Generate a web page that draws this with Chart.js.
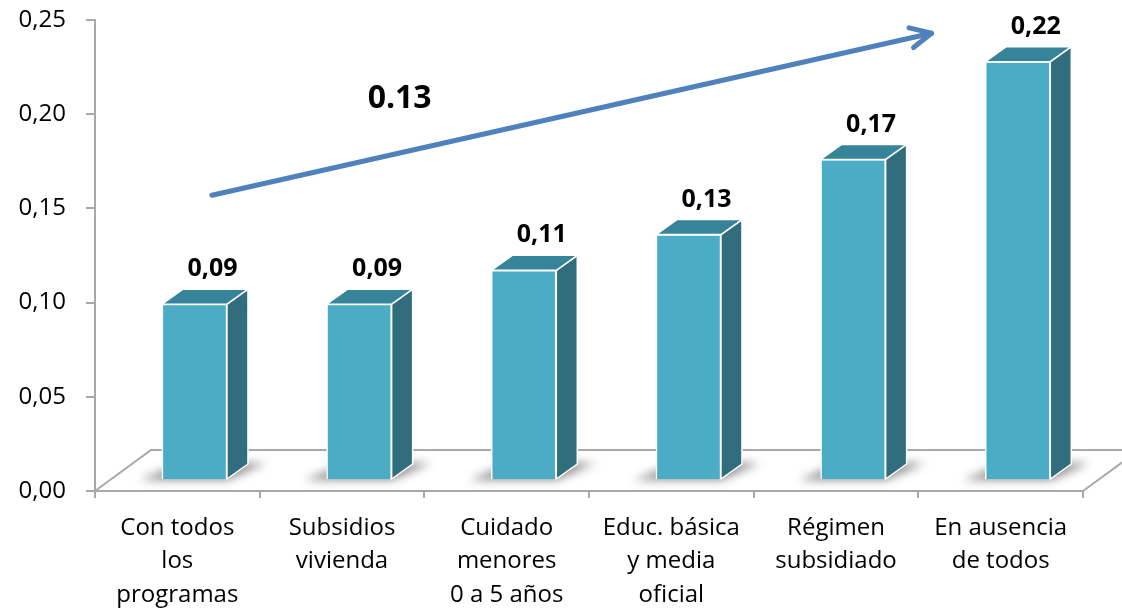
<!DOCTYPE html>
<html><head><meta charset="utf-8">
<script src="https://cdn.jsdelivr.net/npm/chart.js@4"></script>
<style>html,body{margin:0;padding:0;background:#fff;overflow:hidden}</style>
</head><body>
<canvas id="c" width="1122" height="609"></canvas>
<script>
// ---- data ----
const categories = [
  ["Con todos","los","programas"],
  ["Subsidios","vivienda"],
  ["Cuidado","menores","0 a 5 años"],
  ["Educ. básica","y media","oficial"],
  ["Régimen","subsidiado"],
  ["En ausencia","de todos"]
];
const values = [0.093, 0.093, 0.111, 0.130, 0.170, 0.222];
const yTickValues = [0, 0.05, 0.10, 0.15, 0.20, 0.25];
const arrowLabel = "0.13";
const arrowFrom = [0.21, 0.157];   // [category position, value]
const arrowTo = [4.58, 0.243];
const arrowLabelAt = [1.35, 0.208];

// ---- style ----
const FRONT = '#4bacc6', TOP = '#37839a', SIDE = '#316d7d';
const DX = 21, DY = -15;   // depth projection of bar boxes
const FLOOR_DX = 56, FLOOR_DY = -41;
const FONT = '"Open Sans", "DejaVu Sans", sans-serif';

const fmt = v => v.toFixed(2).replace('.', ',');
const noPad = s => { s.paddingTop = 0; s.paddingBottom = 0; s.paddingLeft = 0; s.paddingRight = 0; };

const box3d = {
  id: 'box3d',
  beforeDatasetsDraw(chart) {
    const ctx = chart.ctx, a = chart.chartArea;
    ctx.save();
    ctx.strokeStyle = '#a8a8a8'; ctx.lineWidth = 2;
    ctx.beginPath();
    ctx.moveTo(a.left, a.bottom);
    ctx.lineTo(a.left + FLOOR_DX, a.bottom + FLOOR_DY);
    ctx.lineTo(chart.width + 20, a.bottom + FLOOR_DY);
    ctx.stroke();
    ctx.beginPath();
    ctx.moveTo(a.right, a.bottom);
    ctx.lineTo(a.right + FLOOR_DX, a.bottom + FLOOR_DY);
    ctx.stroke();
    const meta = chart.getDatasetMeta(0);
    meta.data.forEach(el => {
      const w = el.width, l = el.x - w / 2, b = el.base;
      ctx.save();
      ctx.filter = 'blur(5px)';
      ctx.fillStyle = 'rgba(0,0,0,0.45)';
      ctx.beginPath();
      ctx.moveTo(l - 22, b + 1);
      ctx.lineTo(l + w, b + 1);
      ctx.lineTo(l + w + DX + 18, b + DY - 1);
      ctx.lineTo(l + DX, b + DY - 1);
      ctx.closePath();
      ctx.fill();
      ctx.restore();
    });
    ctx.restore();
  },
  afterDatasetsDraw(chart) {
    const ctx = chart.ctx;
    const meta = chart.getDatasetMeta(0);
    ctx.save();
    ctx.lineJoin = 'round';
    meta.data.forEach((el, i) => {
      const w = el.width, l = el.x - w / 2, r = el.x + w / 2, t = el.y, b = el.base;
      ctx.strokeStyle = '#ffffff'; ctx.lineWidth = 1.5;
      ctx.fillStyle = SIDE;
      ctx.beginPath();
      ctx.moveTo(r, t); ctx.lineTo(r + DX, t + DY); ctx.lineTo(r + DX, b + DY); ctx.lineTo(r, b);
      ctx.closePath(); ctx.fill(); ctx.stroke();
      ctx.fillStyle = TOP;
      ctx.beginPath();
      ctx.moveTo(l, t); ctx.lineTo(l + DX, t + DY); ctx.lineTo(r + DX, t + DY); ctx.lineTo(r, t);
      ctx.closePath(); ctx.fill(); ctx.stroke();
      ctx.fillStyle = '#000';
      ctx.font = 'bold 25px ' + FONT;
      ctx.textAlign = 'center'; ctx.textBaseline = 'middle';
      ctx.fillText(fmt(values[i]), el.x + 18, t - 35);
    });
    const xs = chart.scales.x, ys = chart.scales.y;
    const x0 = xs.getPixelForValue(arrowFrom[0]), y0 = ys.getPixelForValue(arrowFrom[1]);
    const x1 = xs.getPixelForValue(arrowTo[0]), y1 = ys.getPixelForValue(arrowTo[1]);
    ctx.strokeStyle = '#4f81bd'; ctx.lineWidth = 5; ctx.lineCap = 'round';
    ctx.beginPath(); ctx.moveTo(x0, y0); ctx.lineTo(x1, y1); ctx.stroke();
    const ang = Math.atan2(y1 - y0, x1 - x0), L = 23, sp = 26 * Math.PI / 180;
    ctx.beginPath();
    ctx.moveTo(x1 - L * Math.cos(ang - sp), y1 - L * Math.sin(ang - sp));
    ctx.lineTo(x1, y1);
    ctx.lineTo(x1 - L * Math.cos(ang + sp), y1 - L * Math.sin(ang + sp));
    ctx.stroke();
    ctx.fillStyle = '#000';
    ctx.font = 'bold 32px ' + FONT;
    ctx.textAlign = 'center'; ctx.textBaseline = 'middle';
    ctx.fillText(arrowLabel, xs.getPixelForValue(arrowLabelAt[0]), ys.getPixelForValue(arrowLabelAt[1]));
    ctx.restore();
  }
};

new Chart(document.getElementById('c'), {
  type: 'bar',
  data: {
    labels: categories,
    datasets: [{
      data: values.map((v, i) => ({ x: i, y: v })),
      xAxisID: 'x2', yAxisID: 'y2',
      backgroundColor: FRONT,
      borderColor: '#ffffff',
      borderWidth: 1.5,
      barThickness: 65
    }]
  },
  options: {
    responsive: false,
    animation: false,
    layout: { padding: { top: 20, right: 39, left: 0, bottom: 0 } },
    plugins: { legend: { display: false }, tooltip: { enabled: false } },
    scales: {
      x: {
        type: 'category', offset: true,
        grid: { offset: true, drawOnChartArea: false, color: '#a8a8a8', lineWidth: 2, tickLength: 7 },
        border: { color: '#a8a8a8', width: 2 },
        ticks: { color: '#000', font: { family: FONT, size: 24, lineHeight: 1.4 }, padding: 13, maxRotation: 0, autoSkip: false },
        afterFit(s) { s.height = 118; noPad(s); }
      },
      y: {
        type: 'linear', min: 0, max: 0.25,
        afterBuildTicks(s) { s.ticks = yTickValues.map(v => ({ value: v })); },
        grid: { drawOnChartArea: false, color: '#a8a8a8', lineWidth: 2, tickLength: 9 },
        border: { color: '#a8a8a8', width: 2 },
        ticks: { color: '#000', font: { family: FONT, size: 24 }, padding: 20, callback: v => fmt(v) },
        afterFit(s) { s.width = 95; noPad(s); }
      },
      x2: { type: 'linear', display: false, offset: false, min: -0.604, max: 5.396, afterFit: noPad },
      y2: { type: 'linear', display: false, min: -0.00638, max: 0.24415, afterFit: noPad }
    }
  },
  plugins: [box3d]
});
</script>
</body></html>
